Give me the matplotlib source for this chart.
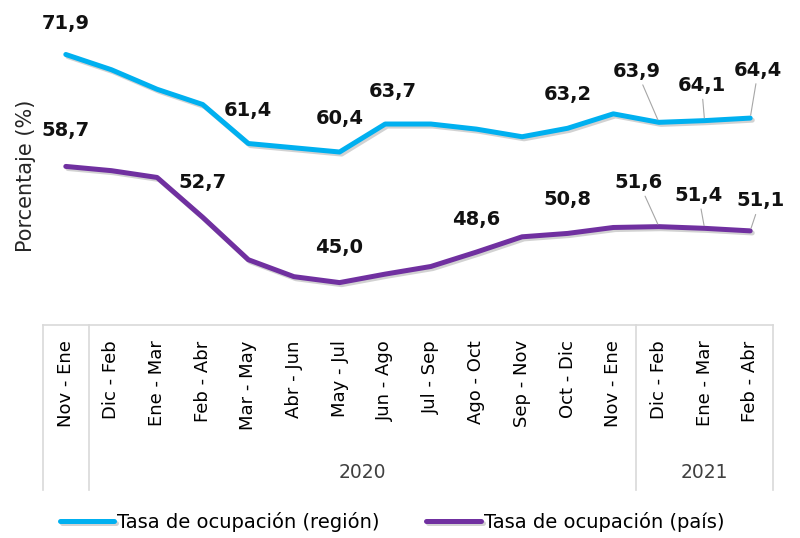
import numpy as np
import matplotlib
matplotlib.use("Agg")
from matplotlib import pyplot as plt
from matplotlib import patheffects as pe
from matplotlib.lines import Line2D

periodos = ["Nov - Ene", "Dic - Feb", "Ene - Mar", "Feb - Abr", "Mar - May",
            "Abr - Jun", "May - Jul", "Jun - Ago", "Jul - Sep", "Ago - Oct",
            "Sep - Nov", "Oct - Dic", "Nov - Ene", "Dic - Feb", "Ene - Mar",
            "Feb - Abr"]
anios = ["2020", "2021"]
region = [71.9, 70.1, 67.8, 66.0, 61.4, 60.9, 60.4, 63.7, 63.7, 63.1,
          62.2, 63.2, 64.9, 63.9, 64.1, 64.4]
pais = [58.7, 58.2, 57.4, 52.7, 47.7, 45.7, 45.0, 46.0, 46.9, 48.6,
        50.4, 50.8, 51.5, 51.6, 51.4, 51.1]
serie_region = "Tasa de ocupación (región)"
serie_pais = "Tasa de ocupación (país)"

# which points carry a label, and where the label sits (offset in pixels)
etiq_region = {0: (0, 31), 4: (0, 33), 6: (0, 34), 7: (8, 33), 11: (0, 34),
               13: (-22, 51), 14: (-3, 35), 15: (8, 48)}
etiq_pais = {0: (0, 36), 3: (0, 35), 6: (0, 35), 9: (0, 33), 11: (0, 34),
             13: (-20, 44), 14: (-6, 33), 15: (10, 30)}
con_guia = [13, 14, 15]

c_region = "#00B0F0"
c_pais = "#7030A0"

fig = plt.figure(figsize=(8, 5.38), dpi=100)
W, H = 800, 538
ax = fig.add_axes([43 / W, 1 - 325 / H, 730 / W, 296.8 / H])

x = np.arange(len(periodos))
sombra = [pe.SimpleLineShadow(offset=(1.5, -1.5), shadow_color="gray", alpha=0.35),
          pe.Normal()]
ax.plot(x, region, color=c_region, lw=3.6, solid_capstyle="round",
        path_effects=sombra, label=serie_region)
ax.plot(x, pais, color=c_pais, lw=3.6, solid_capstyle="round",
        path_effects=sombra, label=serie_pais)

ax.set_xlim(-0.5, len(periodos) - 0.5)
ax.set_ylim(40, 75)
ax.set_yticks([])

def etiquetar(valores, etiquetas):
    for i, (dx, dy) in etiquetas.items():
        props = None
        if i in con_guia:
            props = dict(arrowstyle="-", color="#a6a6a6", lw=0.8,
                         shrinkA=1, shrinkB=2)
        ax.annotate(f"{valores[i]:.1f}".replace(".", ","), (x[i], valores[i]),
                    xytext=(dx, dy), textcoords="offset pixels",
                    ha="center", va="center", fontsize=14, fontweight="bold",
                    color="#111111", arrowprops=props)

etiquetar(region, etiq_region)
etiquetar(pais, etiq_pais)

for s in ["left", "top", "right"]:
    ax.spines[s].set_visible(False)
ax.spines["bottom"].set_color("#d9d9d9")
ax.spines["bottom"].set_linewidth(1.2)

ax.set_xticks(x)
ax.set_xticklabels(periodos, rotation=90, fontsize=13, color="#000000")
ax.tick_params(axis="x", length=0, pad=11)

# multi-level category axis: separators and year labels
trans = ax.get_xaxis_transform()
y_fondo = -(490 - 325) / 296.8
for xs in [-0.5, 0.5, 12.5, len(periodos) - 0.5]:
    ax.add_line(Line2D([xs, xs], [0, y_fondo], transform=trans, color="#d9d9d9",
                       lw=1.2, clip_on=False))
y_anio = -(472 - 325) / 296.8
ax.text((1 + 12) / 2, y_anio, anios[0], transform=trans, ha="center",
        va="center", fontsize=13.5, color="#404040")
ax.text((13 + 15) / 2, y_anio, anios[1], transform=trans, ha="center",
        va="center", fontsize=13.5, color="#404040")

fig.text(26 / W, 1 - 176 / H, "Porcentaje (%)", rotation=90, ha="center",
         va="center", fontsize=15, color="#262626")

fig.legend(loc="center", bbox_to_anchor=(0.49, 1 - 522 / H), ncol=2,
           frameon=False, fontsize=14, handlelength=2.8, handletextpad=0.15,
           columnspacing=2.4)

plt.savefig("out.png", dpi=100)
